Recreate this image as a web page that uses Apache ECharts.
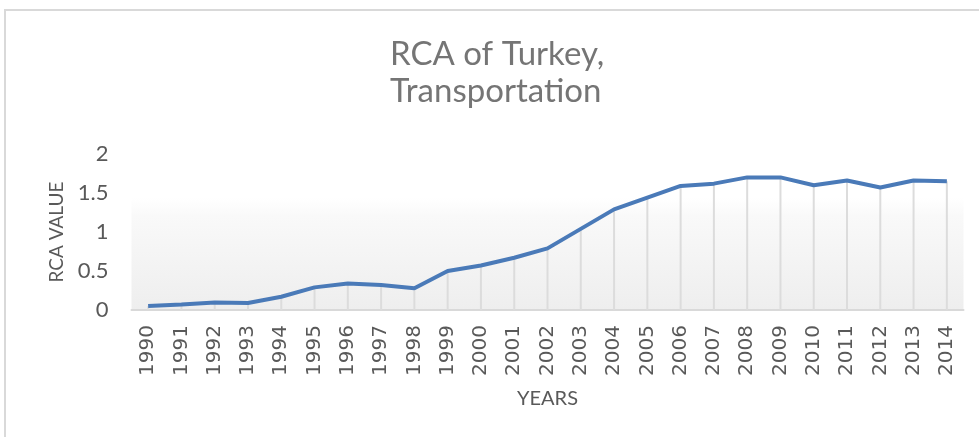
<!DOCTYPE html>
<html>
<head>
<meta charset="utf-8">
<script src="https://cdn.jsdelivr.net/npm/echarts@6/dist/echarts.min.js"></script>
<style>
  html, body { margin: 0; padding: 0; background: #fff; }
  #chart { width: 979px; height: 437px; }
</style>
</head>
<body>
<div id="chart"></div>
<script>
// data
const years = ['1990', '1991', '1992', '1993', '1994', '1995', '1996', '1997', '1998', '1999',
  '2000', '2001', '2002', '2003', '2004', '2005', '2006', '2007', '2008', '2009',
  '2010', '2011', '2012', '2013', '2014'];
const rcaValues = [0.05, 0.07, 0.095, 0.09, 0.17, 0.29, 0.34, 0.32, 0.28, 0.50,
  0.57, 0.67, 0.79, 1.04, 1.29, 1.44, 1.59, 1.62, 1.70, 1.70,
  1.60, 1.66, 1.57, 1.66, 1.65];
const yTicks = [0, 0.5, 1, 1.5, 2];

const chart = echarts.init(document.getElementById('chart'));

const option = {
  animation: false,
  title: {
    text: 'RCA of Turkey,\nTransportation',
    left: 385,
    top: 31,
    textStyle: {
      fontFamily: 'Lato',
      fontWeight: 'normal',
      fontSize: 33,
      lineHeight: 37,
      color: '#757575'
    }
  },
  graphic: [{
    type: 'rect',
    shape: { x: 5, y: 10, width: 1000, height: 500 },
    style: { fill: 'none', stroke: '#d9d9d9', lineWidth: 2 },
    silent: true,
    z: -10
  }],
  grid: {
    left: 131.5,
    right: 15.5,
    top: 154,
    height: 156,
    show: true,
    borderWidth: 0,
    backgroundColor: {
      type: 'linear', x: 0, y: 0, x2: 0, y2: 1,
      colorStops: [
        { offset: 0, color: '#ffffff' },
        { offset: 0.28, color: '#ffffff' },
        { offset: 0.4, color: '#f9f9f9' },
        { offset: 1, color: '#eeeeee' }
      ]
    }
  },
  xAxis: {
    type: 'category',
    data: years,
    boundaryGap: true,
    name: 'YEARS',
    nameLocation: 'middle',
    nameGap: 79,
    nameTextStyle: { fontFamily: 'Lato', fontSize: 20, color: '#595959' },
    axisLine: { lineStyle: { color: '#d9d9d9', width: 2 } },
    axisTick: { show: false },
    axisLabel: {
      rotate: 90,
      interval: 0,
      margin: 15,
      fontFamily: 'DejaVu Sans',
      fontSize: 20,
      color: '#595959'
    },
    splitLine: { show: false }
  },
  yAxis: {
    type: 'value',
    min: yTicks[0],
    max: yTicks[yTicks.length - 1],
    interval: 0.5,
    name: 'RCA VALUE',
    nameLocation: 'middle',
    nameGap: 65,
    nameTextStyle: { fontFamily: 'Lato', fontSize: 19, color: '#595959' },
    axisLine: { show: false },
    axisTick: { show: false },
    splitLine: { show: false },
    axisLabel: {
      margin: 23,
      fontFamily: 'Lato',
      fontSize: 22,
      color: '#595959'
    }
  },
  series: [
    {
      // drop lines from the curve down to the axis
      type: 'bar',
      data: rcaValues,
      barWidth: 2,
      silent: true,
      itemStyle: { color: '#dcdcdc' },
      z: 1
    },
    {
      type: 'line',
      data: rcaValues,
      symbol: 'none',
      lineStyle: { color: '#4a7ab8', width: 4 },
      z: 3
    }
  ]
};

chart.setOption(option);
</script>
</body>
</html>
